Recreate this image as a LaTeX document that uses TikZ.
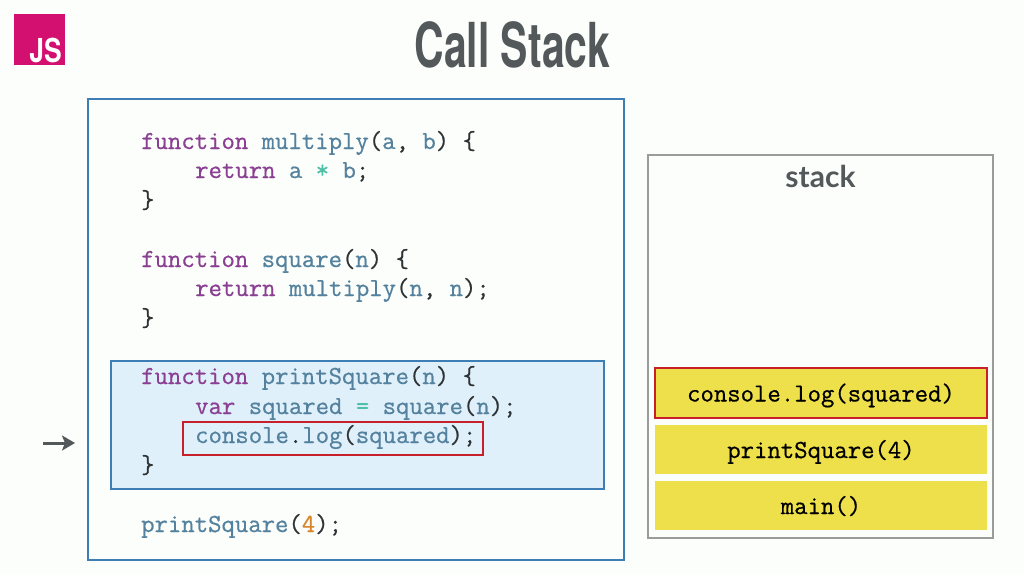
\documentclass[tikz,border=0pt]{standalone}
\usepackage{fontspec}
\usepackage{xcolor}
\usetikzlibrary{arrows.meta,positioning}
\newfontfamily\titlefont[FakeStretch=0.66]{TeX Gyre Heros Bold}
\newfontfamily\badgefont[FakeStretch=0.8]{TeX Gyre Heros Bold}
\newfontfamily\labelfont{Lato}
\setmonofont[AutoFakeBold=0.6]{Latin Modern Mono}

\definecolor{pagebg}{HTML}{FBFEFB}
\definecolor{framecol}{HTML}{3D7FB5}
\definecolor{activecol}{HTML}{DFF0FB}
\definecolor{redcol}{HTML}{C8202A}
\definecolor{framecolgray}{HTML}{9A9C9C}
\definecolor{stackcol}{HTML}{EEE04A}
\definecolor{jscol}{HTML}{D3106F}
\definecolor{titlecol}{HTML}{53585A}
\definecolor{kwcol}{HTML}{8A3F92}
\definecolor{namecol}{HTML}{54829E}
\definecolor{opcol}{HTML}{4FBFA8}
\definecolor{numcol}{HTML}{D9852B}
\definecolor{inkcol}{HTML}{2E3335}

\newcommand{\kw}[1]{\textcolor{kwcol}{#1}}
\newcommand{\nm}[1]{\textcolor{namecol}{#1}}
\newcommand{\op}[1]{\textcolor{opcol}{#1}}
\newcommand{\num}[1]{\textcolor{numcol}{#1}}

\tikzset{
    box/.style={anchor=north west, inner sep=0pt, outer sep=0pt},
    code/.style={anchor=base west, inner sep=0pt, text=inkcol, font=\fontsize{26}{29}\ttfamily\bfseries},
    frame/.style={box, draw=#1, line width=1.8pt},
    cell/.style={anchor=center, inner sep=0pt, fill=stackcol, minimum width=332pt, minimum height=49.5pt,
        text=black, text height=17pt, text depth=0pt, font=\fontsize{26}{29}\ttfamily\bfseries}
}

\begin{document}
\begin{tikzpicture}[x=1pt, y=-1pt]
    \useasboundingbox[fill=pagebg] (0, 0) rectangle (1024, 574);

    % Badge and title
    \node[box, fill=jscol, minimum width=51pt, minimum height=51pt] (badge) at (14, 14) {};
    \node[anchor=base, text=white, inner sep=0pt, font=\fontsize{33}{33}\badgefont] (badgetext) at (45.5, 62) {JS};
    \node[anchor=base, text=titlecol, inner sep=0pt, font=\fontsize{62}{62}\titlefont] (title) at (512.5, 67) {Call Stack};

    % Code panel
    \node[frame=framecol, minimum width=536pt, minimum height=461pt] (panel) at (88, 99) {};
    \node[frame=framecol, fill=activecol, minimum width=493pt, minimum height=128pt] (active) at (111, 361) {};
    \node[frame=redcol, minimum width=300pt, minimum height=33pt] (current) at (183, 422) {};

    \node[code] (l1) at (141, 149) {\kw{function} \nm{multiply}(\nm{a}, \nm{b}) \{};
    \node[code] (l2) at (195, 178) {\kw{return} \nm{a} \op{*} \nm{b};};
    \node[code] (l3) at (141, 208) {\}};
    \node[code] (l4) at (141, 267) {\kw{function} \nm{square}(\nm{n}) \{};
    \node[code] (l5) at (195, 296) {\kw{return} \nm{multiply}(\nm{n}, \nm{n});};
    \node[code] (l6) at (141, 326) {\}};
    \node[code] (l7) at (141, 384) {\kw{function} \nm{printSquare}(\nm{n}) \{};
    \node[code] (l8) at (195, 414) {\kw{var} \nm{squared} \op{=} \nm{square}(\nm{n});};
    \node[code] (l9) at (195, 443) {\nm{console}.\nm{log}(\nm{squared});};
    \node[code] (l10) at (141, 473) {\}};
    \node[code] (l11) at (141, 532) {\nm{printSquare}(\num{4});};

    % Execution arrow
    \coordinate (tail) at (43, 443);
    \coordinate (head) at (75, 443);
    \draw[-{Stealth[length=13pt, width=15pt, inset=3pt]}, line width=3pt, titlecol] (tail) -- (head);

    % Stack
    \node[frame=framecolgray, minimum width=345pt, minimum height=383pt] (stack) at (648, 155) {};
    \node[text=titlecol, inner sep=0pt, font=\fontsize{30}{30}\labelfont\bfseries] (stacklabel) at (820.5, 176.5) {stack};

    \node[cell, draw=redcol, line width=1.6pt] (top) at (821, 393) {console.log(squared)};
    \node[cell] (mid) at (821, 449.5) {printSquare(4)};
    \node[cell] (bot) at (821, 505.5) {main()};
\end{tikzpicture}
\end{document}
